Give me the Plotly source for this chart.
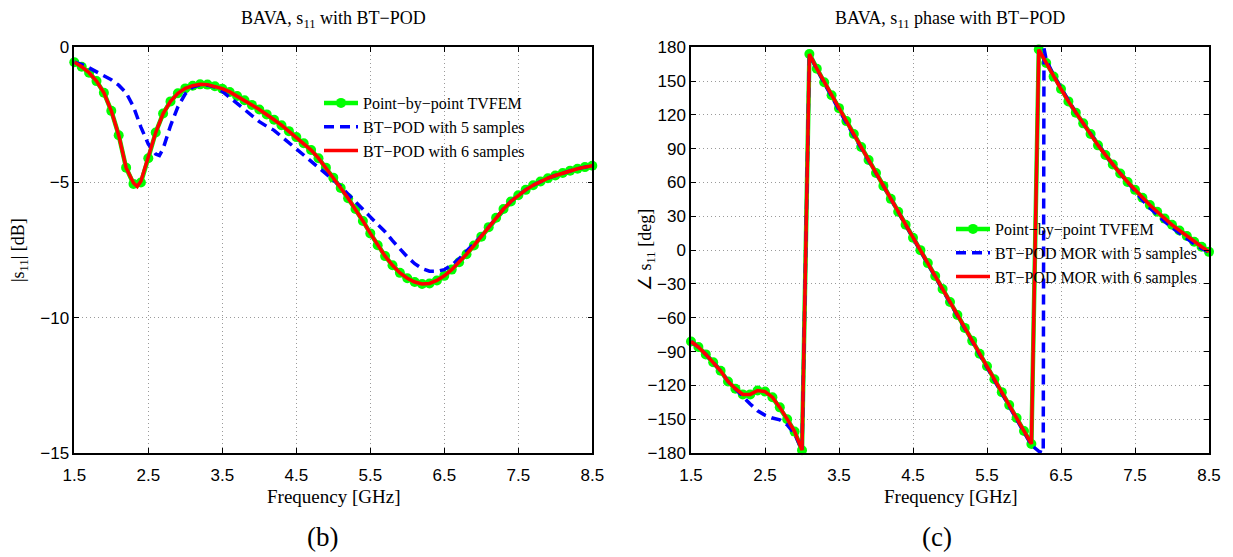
import plotly.graph_objects as go

# ---------------- data ----------------
freq_ghz = [1.5, 1.6, 1.7, 1.8, 1.9, 2.0, 2.1, 2.2, 2.3, 2.4, 2.5, 2.6, 2.7, 2.8, 2.9,
            3.0, 3.1, 3.2, 3.3, 3.4, 3.5, 3.6, 3.7, 3.8, 3.9, 4.0, 4.1, 4.2, 4.3, 4.4,
            4.5, 4.6, 4.7, 4.8, 4.9, 5.0, 5.1, 5.2, 5.3, 5.4, 5.5, 5.6, 5.7, 5.8, 5.9,
            6.0, 6.1, 6.2, 6.3, 6.4, 6.5, 6.6, 6.7, 6.8, 6.9, 7.0, 7.1, 7.2, 7.3, 7.4,
            7.5, 7.6, 7.7, 7.8, 7.9, 8.0, 8.1, 8.2, 8.3, 8.4, 8.5]

# (b) |s11| in dB
s11_tvfem_db = [-0.55, -0.72, -0.94, -1.25, -1.68, -2.35, -3.25, -4.45, -5.05, -5.00,
                -4.10, -3.15, -2.45, -2.00, -1.70, -1.52, -1.42, -1.37, -1.38, -1.44,
                -1.53, -1.65, -1.80, -1.96, -2.13, -2.30, -2.48, -2.68, -2.88, -3.10,
                -3.32, -3.55, -3.80, -4.10, -4.45, -4.82, -5.20, -5.58, -5.98, -6.42,
                -6.88, -7.32, -7.72, -8.06, -8.34, -8.54, -8.68, -8.75, -8.73, -8.62,
                -8.45, -8.22, -7.95, -7.65, -7.33, -7.00, -6.65, -6.30, -5.98, -5.70,
                -5.47, -5.27, -5.10, -4.96, -4.84, -4.74, -4.65, -4.56, -4.49, -4.43,
                -4.38]

s11_bt6_freq = [1.5, 1.6, 1.7, 1.8, 1.9, 2.0, 2.1, 2.2, 2.3, 2.35, 2.4, 2.5, 2.6, 2.7, 2.8,
                2.9, 3.0, 3.1, 3.2, 3.3, 3.4, 3.5, 3.6, 3.7, 3.8, 3.9, 4.0, 4.1, 4.2, 4.3,
                4.4, 4.5, 4.6, 4.7, 4.8, 4.9, 5.0, 5.1, 5.2, 5.3, 5.4, 5.5, 5.6, 5.7, 5.8,
                5.9, 6.0, 6.1, 6.2, 6.3, 6.4, 6.5, 6.6, 6.7, 6.8, 6.9, 7.0, 7.1, 7.2, 7.3,
                7.4, 7.5, 7.6, 7.7, 7.8, 7.9, 8.0, 8.1, 8.2, 8.3, 8.4, 8.5]
s11_bt6_db = [-0.55, -0.72, -0.94, -1.25, -1.68, -2.35, -3.25, -4.45, -5.02, -5.15,
              -4.95, -4.10, -3.15, -2.45, -2.00, -1.70, -1.52, -1.42, -1.37, -1.38,
              -1.44, -1.53, -1.65, -1.80, -1.96, -2.13, -2.30, -2.48, -2.68, -2.88,
              -3.10, -3.32, -3.55, -3.80, -4.10, -4.45, -4.82, -5.20, -5.58, -5.98,
              -6.42, -6.88, -7.32, -7.72, -8.06, -8.34, -8.54, -8.68, -8.75, -8.73,
              -8.62, -8.45, -8.22, -7.95, -7.65, -7.33, -7.00, -6.65, -6.30, -5.98,
              -5.70, -5.47, -5.27, -5.10, -4.96, -4.84, -4.74, -4.65, -4.56, -4.49,
              -4.43, -4.38]

s11_bt5_freq = [1.5, 1.6, 1.7, 1.8, 1.9, 2.0, 2.1, 2.2, 2.3, 2.4, 2.5, 2.6, 2.65, 2.7, 2.8,
                2.9, 3.0, 3.1, 3.2, 3.3, 3.4, 3.5, 3.6, 3.7, 3.8, 3.9, 4.0, 4.1, 4.2, 4.3,
                4.4, 4.5, 4.6, 4.7, 4.8, 4.9, 5.0, 5.1, 5.2, 5.3, 5.4, 5.5, 5.6, 5.7, 5.8,
                5.9, 6.0, 6.1, 6.2, 6.3, 6.4, 6.5, 6.6, 6.7, 6.8, 6.9, 7.0, 7.1, 7.2, 7.3,
                7.4, 7.5, 7.6, 7.7, 7.8, 7.9, 8.0, 8.1, 8.2, 8.3, 8.4, 8.5]
s11_bt5_db = [-0.55, -0.63, -0.76, -0.90, -1.03, -1.20, -1.40, -1.68, -2.20, -2.95,
              -3.58, -3.95, -4.00, -3.75, -2.90, -2.20, -1.72, -1.47, -1.39, -1.40,
              -1.47, -1.63, -1.85, -2.08, -2.30, -2.52, -2.75, -2.92, -3.07, -3.30,
              -3.53, -3.75, -3.96, -4.18, -4.42, -4.66, -4.90, -5.15, -5.44, -5.72,
              -6.00, -6.27, -6.55, -6.82, -7.15, -7.47, -7.75, -8.00, -8.18, -8.28,
              -8.28, -8.22, -8.05, -7.82, -7.55, -7.28, -6.98, -6.65, -6.30, -5.98,
              -5.70, -5.47, -5.27, -5.10, -4.96, -4.84, -4.74, -4.65, -4.56, -4.49,
              -4.43, -4.38]

# (c) phase of s11 in degrees
phase_tvfem_deg = [-81, -86, -92.5, -99.5, -107, -116.5, -123, -128, -128, -124.5,
                   -125.5, -130.5, -139.5, -150, -161, -177.5, 174, 161, 149, 137.5,
                   126, 114.5, 103, 91.5, 80, 68.5, 57, 45.5, 34, 22.5,
                   11, 0, -11.5, -23, -34.5, -46, -57.5, -69, -80.5, -92,
                   -103, -114.5, -126, -137.5, -149, -160.5, -172, 178, 166, 154,
                   143, 132, 122, 112.5, 103, 93, 84.5, 76, 68, 60.5,
                   53.5, 46.5, 40, 34, 28, 22.5, 17.5, 12.5, 7.5, 3, -1.5]
phase_bt6_deg = list(phase_tvfem_deg)

phase_bt5_freq = [1.5, 1.6, 1.7, 1.8, 1.9, 2.0, 2.1, 2.2, 2.3, 2.4, 2.5, 2.6, 2.7, 2.8, 2.9,
                  3.0, 3.1, 3.2, 3.3, 3.4, 3.5, 3.6, 3.7, 3.8, 3.9, 4.0, 4.1, 4.2, 4.3, 4.4,
                  4.5, 4.6, 4.7, 4.8, 4.9, 5.0, 5.1, 5.2, 5.3, 5.4, 5.5, 5.6, 5.7, 5.8, 5.9,
                  6.0, 6.1, 6.2, 6.26, 6.27, 6.3, 6.4, 6.5, 6.6, 6.7, 6.8, 6.9, 7.0, 7.1, 7.2,
                  7.3, 7.4, 7.5, 7.6, 7.7, 7.8, 7.9, 8.0, 8.1, 8.2, 8.3, 8.4, 8.5]
phase_bt5_deg = [-81, -86, -92.5, -99.5, -107, -116.5, -123.5, -130, -136.5, -142.5,
                 -146.5, -149, -150.5, -155, -163, -177.5, 174, 160.5, 148, 136,
                 124.5, 113, 102, 91, 80, 68.5, 57, 45.5, 34, 22.5,
                 11, 0, -11.5, -23, -34.5, -46, -57.5, -69, -80.5, -92,
                 -103, -114.5, -126, -138.5, -150, -161.5, -173, -178.5, -180, 179,
                 169, 155, 143.5, 132, 122, 112.5, 103, 93, 84.5, 76,
                 68, 60.5, 52, 44.5, 37.5, 31, 25.5, 20, 15, 10, 5.5, 1.5, -2]

freq_ticks = [1.5, 2.5, 3.5, 4.5, 5.5, 6.5, 7.5, 8.5]

# ---------------- styling ----------------
W, H = 1233, 557
SERIF = "Liberation Serif"
SANS = "Liberation Sans"
GREEN, BLUE, RED = "#00FF00", "#0000FF", "#FF0000"

def px_x(px):
    return px / W

def px_y(py):
    return 1 - py / H

fig = go.Figure()

def add_set(xa, ya, legend, fx, gy, bx, by, rx, ry, names):
    fig.add_trace(go.Scatter(x=fx, y=gy, mode="lines+markers", name=names[0],
                             line=dict(color=GREEN, width=4.5),
                             marker=dict(color=GREEN, size=10, symbol="circle"),
                             xaxis=xa, yaxis=ya, legend=legend, cliponaxis=False))
    fig.add_trace(go.Scatter(x=bx, y=by, mode="lines", name=names[1],
                             line=dict(color=BLUE, width=3.5, dash="10px,6px"),
                             xaxis=xa, yaxis=ya, legend=legend, cliponaxis=False))
    fig.add_trace(go.Scatter(x=rx, y=ry, mode="lines", name=names[2],
                             line=dict(color=RED, width=3.5),
                             xaxis=xa, yaxis=ya, legend=legend, cliponaxis=False))

add_set("x", "y", "legend", freq_ghz, s11_tvfem_db, s11_bt5_freq, s11_bt5_db,
        s11_bt6_freq, s11_bt6_db,
        ["Point\u2212by\u2212point TVFEM", "BT\u2212POD with 5 samples",
         "BT\u2212POD with 6 samples"])
add_set("x2", "y2", "legend2", freq_ghz, phase_tvfem_deg, phase_bt5_freq, phase_bt5_deg,
        freq_ghz, phase_bt6_deg,
        ["Point\u2212by\u2212point TVFEM", "BT\u2212POD MOR with 5 samples",
         "BT\u2212POD MOR with 6 samples"])

ydom = [px_y(453), px_y(47.3)]
axis_common = dict(showline=True, linecolor="black", linewidth=1.5, mirror="ticks",
                   ticks="inside", ticklen=5, tickwidth=1, tickcolor="black",
                   showgrid=True, gridcolor="#9a9a9a", griddash="1px,3px", gridwidth=1,
                   zeroline=False, tickfont=dict(family=SANS, size=17, color="black"))

fig.update_layout(
    width=W, height=H,
    margin=dict(l=0, r=0, t=0, b=0, autoexpand=False),
    paper_bgcolor="white", plot_bgcolor="white",
    showlegend=True,
    xaxis=dict(domain=[px_x(74.3), px_x(592.3)], range=[1.5, 8.5], tickvals=freq_ticks,
               anchor="y", ticklabelstandoff=6, **axis_common),
    yaxis=dict(domain=ydom, range=[-15, 0], dtick=5, tick0=0, anchor="x", **axis_common),
    xaxis2=dict(domain=[px_x(691), px_x(1209)], range=[1.5, 8.5], tickvals=freq_ticks,
                anchor="y2", ticklabelstandoff=6, **axis_common),
    yaxis2=dict(domain=ydom, range=[-180, 180], dtick=30, tick0=0, anchor="x2",
                **axis_common),
    legend=dict(x=px_x(319), y=px_y(86), xanchor="left", yanchor="top",
                bgcolor="rgba(0,0,0,0)", borderwidth=0,
                font=dict(family=SERIF, size=16, color="black"), itemwidth=34),
    legend2=dict(x=px_x(951), y=px_y(212), xanchor="left", yanchor="top",
                 bgcolor="rgba(0,0,0,0)", borderwidth=0,
                 font=dict(family=SERIF, size=16, color="black"), itemwidth=34),
)

def note(text, x, y, size, angle=0, family=SERIF):
    fig.add_annotation(text=text, x=px_x(x), y=px_y(y), xref="paper", yref="paper",
                       xanchor="center", yanchor="middle", showarrow=False,
                       textangle=angle, font=dict(family=family, size=size, color="black"))

note("BAVA, s<sub>11</sub> with BT\u2212POD", 333, 19, 18)
note("BAVA, s<sub>11</sub> phase with BT\u2212POD", 950, 19, 18)
note("Frequency [GHz]", 333, 496, 19)
note("Frequency [GHz]", 950, 496, 19)
note("|s<sub>11</sub>| [dB]", 19, 250, 18, angle=-90)
note("\u2220 s<sub>11</sub> [deg]", 646, 250, 18, angle=-90)
note("(b)", 322, 537, 27)
note("(c)", 937, 537, 27)

fig.write_html("out.html")
